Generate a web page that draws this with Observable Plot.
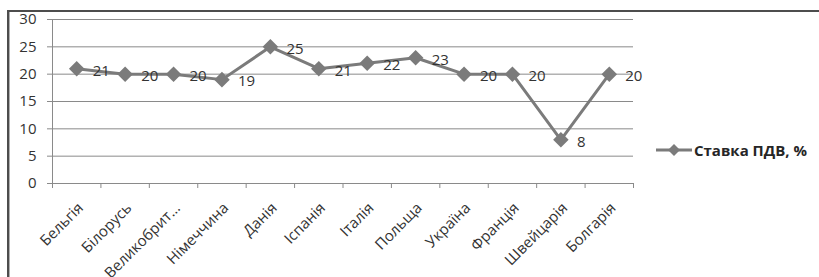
<!DOCTYPE html>
<html>
<head>
<meta charset="utf-8">
<script src="https://cdn.jsdelivr.net/npm/d3@7"></script>
<script src="https://cdn.jsdelivr.net/npm/@observablehq/plot@0.6"></script>
<style>
  html, body { margin: 0; padding: 0; background: #fff; }
  #wrap { position: relative; width: 819px; height: 277px; overflow: hidden; font-family: "Open Sans", sans-serif; }
  #frame { position: absolute; left: 7px; top: 10px; width: 830px; height: 300px; border-top: 2px solid #4d4d4d; border-left: 2px solid #4d4d4d; box-shadow: inset 1px 0 0 #b0b0b0; }
  #chart { position: absolute; left: 0; top: 0; }
  #legend { position: absolute; left: 655px; top: 140px; display: flex; align-items: center; font-weight: bold; font-size: 15px; color: #262626; }
</style>
</head>
<body>
<div id="wrap">
  <div id="frame"></div>
  <div id="chart"></div>
  <div id="legend"></div>
</div>
<script>
const countries = ["Бельгія", "Білорусь", "Великобрит…", "Німеччина", "Данія", "Іспанія", "Італія", "Польща", "Україна", "Франція", "Швейцарія", "Болгарія"];
const vatRates = [21, 20, 20, 19, 25, 21, 22, 23, 20, 20, 8, 20];
const yTicks = [0, 5, 10, 15, 20, 25, 30];
const seriesName = "Ставка ПДВ, %";

const data = countries.map((c, i) => ({i, country: c, value: vatRates[i]}));
const idx = d3.range(countries.length);
const bounds = d3.range(countries.length + 1).map(i => i - 0.5);

const lineColor = "#7b7b7b";
const gridColor = "#8a8a8a";
const textColor = "#333";

const plot = Plot.plot({
  width: 819,
  height: 277,
  marginLeft: 52,
  marginRight: 186,
  marginTop: 19,
  marginBottom: 94,
  style: {fontFamily: "Open Sans, sans-serif", fontSize: "13px", color: textColor, background: "transparent"},
  x: {type: "linear", domain: [-0.5, countries.length - 0.5], axis: null},
  y: {domain: [0, 30], axis: null},
  marks: [
    Plot.gridY(yTicks, {stroke: gridColor, strokeOpacity: 1}),
    Plot.ruleX([-0.5], {y1: 0, y2: 30, stroke: gridColor}),
    Plot.ruleY([0], {stroke: gridColor}),
    Plot.axisY(yTicks, {tickSize: 5, tickPadding: 11, stroke: gridColor, fill: textColor, fontSize: 15, label: null}),
    Plot.axisX(bounds, {tickSize: 5, tickFormat: () => "", stroke: gridColor, label: null}),
    Plot.axisX(idx, {tickSize: 0, tickPadding: 22, dx: 4, tickRotate: -45, tickFormat: i => countries[i], fill: textColor, fontSize: 15, label: null}),
    Plot.line(data, {x: "i", y: "value", stroke: lineColor, strokeWidth: 3}),
    Plot.dot(data, {x: "i", y: "value", symbol: "diamond2", r: 7, fill: lineColor, stroke: "none"}),
    Plot.text(data, {x: "i", y: "value", text: d => String(d.value), dx: 16, dy: 2, textAnchor: "start", fill: textColor, fontSize: 15})
  ]
});
document.getElementById("chart").appendChild(plot);

// legend
const lg = d3.select("#legend");
const sw = lg.append("svg").attr("width", 38).attr("height", 14);
sw.append("line").attr("x1", 1).attr("x2", 37).attr("y1", 7).attr("y2", 7).attr("stroke", lineColor).attr("stroke-width", 3);
sw.append("path").attr("d", "M19,1L25,7L19,13L13,7Z").attr("fill", lineColor);
lg.append("span").text(seriesName).style("margin-left", "1px");
</script>
</body>
</html>
